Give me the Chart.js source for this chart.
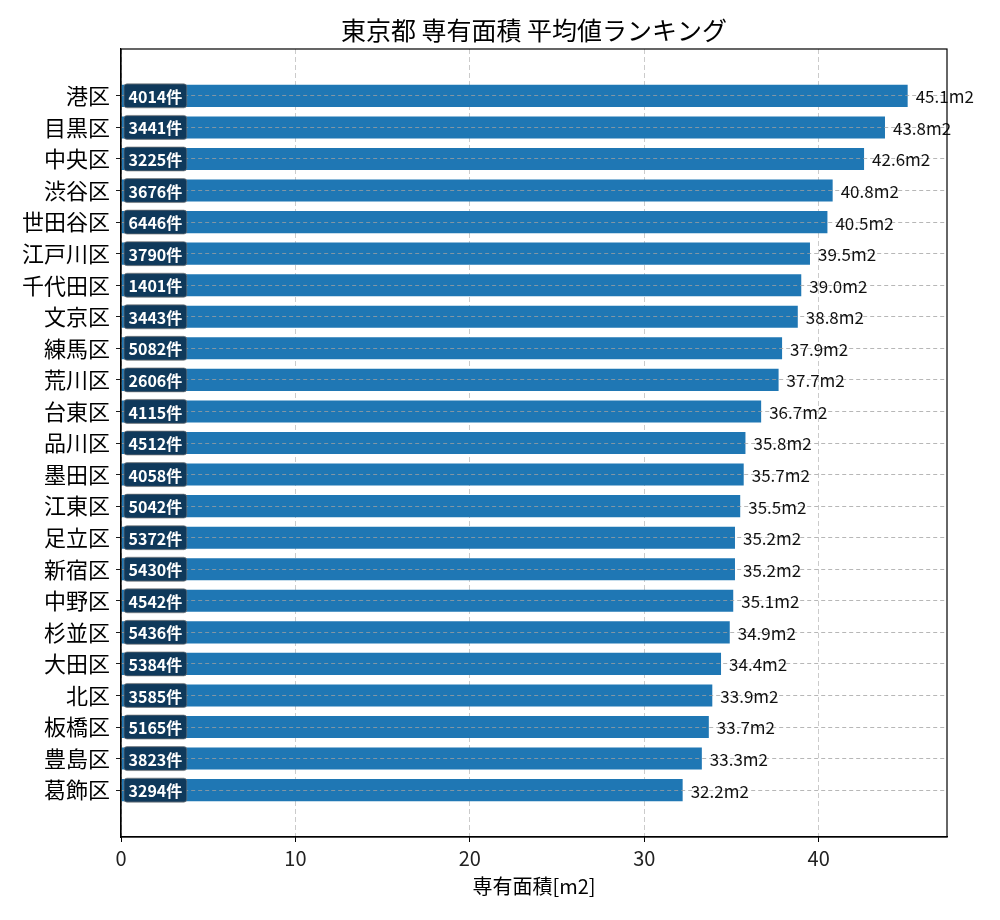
<!DOCTYPE html>
<html>
<head>
<meta charset="utf-8">
<script src="https://cdn.jsdelivr.net/npm/chart.js@4.4.0/dist/chart.umd.min.js"></script>
<style>
  html, body { margin: 0; padding: 0; background: #fff; }
  #wrap { width: 1000px; height: 920px; }
</style>
</head>
<body>
<div id="wrap"><canvas id="ranking-chart" width="1000" height="920"></canvas></div>
<script>
// 区ごとの専有面積平均値と件数
const wards = ['港区', '目黒区', '中央区', '渋谷区', '世田谷区', '江戸川区', '千代田区', '文京区',
    '練馬区', '荒川区', '台東区', '品川区', '墨田区', '江東区', '足立区', '新宿区', '中野区',
    '杉並区', '大田区', '北区', '板橋区', '豊島区', '葛飾区'];
const avgArea = [45.1, 43.8, 42.6, 40.8, 40.5, 39.5, 39.0, 38.8, 37.9, 37.7, 36.7, 35.8,
    35.7, 35.5, 35.2, 35.2, 35.1, 34.9, 34.4, 33.9, 33.7, 33.3, 32.2];
const counts = [4014, 3441, 3225, 3676, 6446, 3790, 1401, 3443, 5082, 2606, 4115, 4512,
    4058, 5042, 5372, 5430, 4542, 5436, 5384, 3585, 5165, 3823, 3294];
const xTicks = [0, 10, 20, 30, 40];

const FONT = '"Noto Sans CJK JP", "Noto Sans", sans-serif';
const xMax = Math.max(...avgArea) * 1.05;
const yPad = (wards.length - 1 + 0.7) * 0.05 + 0.35;

function roundRect(ctx, x, y, w, h, r) {
    ctx.beginPath();
    ctx.moveTo(x + r, y);
    ctx.lineTo(x + w - r, y);
    ctx.quadraticCurveTo(x + w, y, x + w, y + r);
    ctx.lineTo(x + w, y + h - r);
    ctx.quadraticCurveTo(x + w, y + h, x + w - r, y + h);
    ctx.lineTo(x + r, y + h);
    ctx.quadraticCurveTo(x, y + h, x, y + h - r);
    ctx.lineTo(x, y + r);
    ctx.quadraticCurveTo(x, y, x + r, y);
    ctx.closePath();
}

// 件数ラベル・数値ラベル・枠線
const labelPlugin = {
    id: 'barLabels',
    afterDraw(chart) {
        const ctx = chart.ctx;
        const area = chart.chartArea;
        const meta = chart.getDatasetMeta(0);
        ctx.save();
        meta.data.forEach((bar, i) => {
            const y = bar.y;
            // 件数ボックス
            const text = counts[i] + '件';
            ctx.font = 'bold 16px ' + FONT;
            const tw = ctx.measureText(text).width;
            const bx = area.left + 3;
            const bw = tw + 9;
            const bh = 24;
            roundRect(ctx, bx, y - bh / 2, bw, bh, 3);
            ctx.fillStyle = 'rgba(14, 52, 84, 0.92)';
            ctx.fill();
            ctx.strokeStyle = 'rgba(120, 120, 120, 0.6)';
            ctx.lineWidth = 1;
            ctx.stroke();
            ctx.fillStyle = '#ffffff';
            ctx.textAlign = 'left';
            ctx.textBaseline = 'middle';
            ctx.fillText(text, bx + 4.5, y + 1);

            // 数値ラベル
            ctx.font = '17px ' + FONT;
            ctx.fillStyle = '#111';
            ctx.fillText(avgArea[i].toFixed(1) + 'm2', bar.x + 8, y + 1);
        });
        // 枠線
        ctx.strokeStyle = '#000';
        ctx.lineWidth = 1.2;
        ctx.strokeRect(area.left, area.top, area.right - area.left, area.bottom - area.top);
        ctx.restore();
    }
};

const ctx = document.getElementById('ranking-chart').getContext('2d');
new Chart(ctx, {
    type: 'bar',
    data: {
        datasets: [{
            label: '専有面積',
            data: avgArea.map((v, i) => ({ x: v, y: i })),
            backgroundColor: '#1f77b4',
            borderWidth: 0,
            barPercentage: 0.7,
            categoryPercentage: 1.0
        }]
    },
    options: {
        indexAxis: 'y',
        responsive: false,
        animation: false,
        devicePixelRatio: 1,
        layout: {
            padding: { left: 16, right: 53, top: 0, bottom: 18 }
        },
        plugins: {
            legend: { display: false },
            tooltip: { enabled: false },
            title: {
                display: true,
                fullSize: false,
                text: '東京都 専有面積 平均値ランキング',
                color: '#000',
                font: { family: FONT, size: 25, weight: 'normal' },
                padding: { top: 15, bottom: 4 }
            }
        },
        scales: {
            x: {
                type: 'linear',
                min: 0,
                max: xMax,
                afterBuildTicks: scale => {
                    scale.ticks = xTicks.map(v => ({ value: v }));
                },
                ticks: {
                    color: '#222',
                    font: { family: FONT, size: 20 },
                    padding: 4
                },
                grid: {
                    color: 'rgba(190, 190, 190, 0.8)',
                    tickColor: '#000',
                    tickLength: 5,
                    tickBorderDash: [],
                    z: 0
                },
                border: { display: true, color: '#000', width: 1.2, dash: [5, 3] },
                title: {
                    display: true,
                    text: '専有面積[m2]',
                    color: '#000',
                    font: { family: FONT, size: 20 },
                    padding: { top: 0 }
                }
            },
            y: {
                type: 'linear',
                reverse: true,
                offset: false,
                min: -yPad,
                max: wards.length - 1 + yPad,
                afterBuildTicks: scale => {
                    scale.ticks = wards.map((_, i) => ({ value: i }));
                },
                ticks: {
                    color: '#000',
                    font: { family: FONT, size: 22 },
                    padding: 6,
                    callback: value => wards[value]
                },
                grid: {
                    offset: false,
                    color: 'rgba(160, 160, 160, 0.85)',
                    lineWidth: 0.9,
                    tickColor: '#000',
                    tickLength: 5,
                    tickBorderDash: [],
                    z: 1
                },
                border: { display: true, color: '#000', width: 1.2, dash: [4, 3], z: 1 }
            }
        }
    },
    plugins: [labelPlugin]
});
</script>
</body>
</html>
